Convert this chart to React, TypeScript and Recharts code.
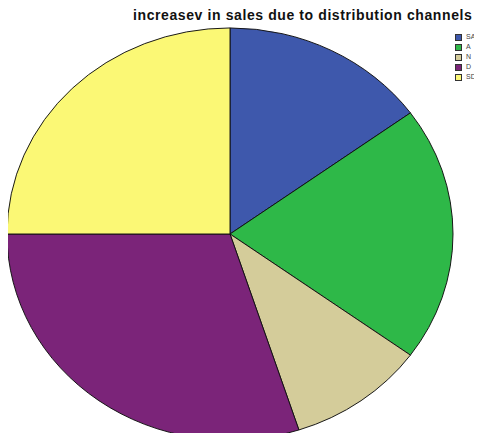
import { PieChart, Pie, Cell } from "recharts";

const CATEGORIES = ["SA", "A", "N", "D", "SD"];
const COUNTS = [15, 20, 10, 30, 25];
const COLORS = ["#3e58ac", "#2eb848", "#d4cc9a", "#7b2479", "#fbf875"];

const data = CATEGORIES.map((name, i) => ({ name, value: COUNTS[i] }));

const App = () => {
  return (
    <div
      style={{
        position: "relative",
        width: 466,
        height: 425,
        fontFamily: "'Liberation Sans', Arial, sans-serif",
      }}
    >
      {/* pie is drawn as a circle, then squashed a bit to match the oval */}
      <div
        style={{
          position: "absolute",
          left: 0,
          top: 0,
          transform: "scaleY(0.924)",
          transformOrigin: "222px 226px",
        }}
      >
        <PieChart
          width={460}
          height={460}
          margin={{ top: 0, right: 0, bottom: 0, left: 0 }}
        >
          <Pie
            data={data}
            dataKey="value"
            nameKey="name"
            cx={222}
            cy={226}
            outerRadius={223}
            startAngle={90}
            endAngle={-270}
            stroke="#111"
            strokeWidth={1}
            isAnimationActive={false}
          >
            {data.map((entry, index) => (
              <Cell key={`cell-${index}`} fill={COLORS[index]} />
            ))}
          </Pie>
        </PieChart>
      </div>

      <div
        style={{
          position: "absolute",
          left: 125,
          top: 0,
          fontSize: 14,
          lineHeight: "14px",
          letterSpacing: "0.6px",
          fontWeight: "bold",
          color: "#111",
          whiteSpace: "nowrap",
        }}
      >
        increasev in sales due to distribution channels
      </div>

      {/* legend */}
      <div style={{ position: "absolute", left: 447, top: 24 }}>
        {data.map((entry, index) => (
          <div
            key={entry.name}
            style={{ display: "flex", alignItems: "center", height: 10 }}
          >
            <span
              style={{
                display: "inline-block",
                width: 5,
                height: 5,
                background: COLORS[index],
                border: "1px solid #333",
                marginRight: 4,
              }}
            />
            <span style={{ fontSize: 7, color: "#444", lineHeight: "10px" }}>
              {entry.name}
            </span>
          </div>
        ))}
      </div>
    </div>
  );
};

export default App;
